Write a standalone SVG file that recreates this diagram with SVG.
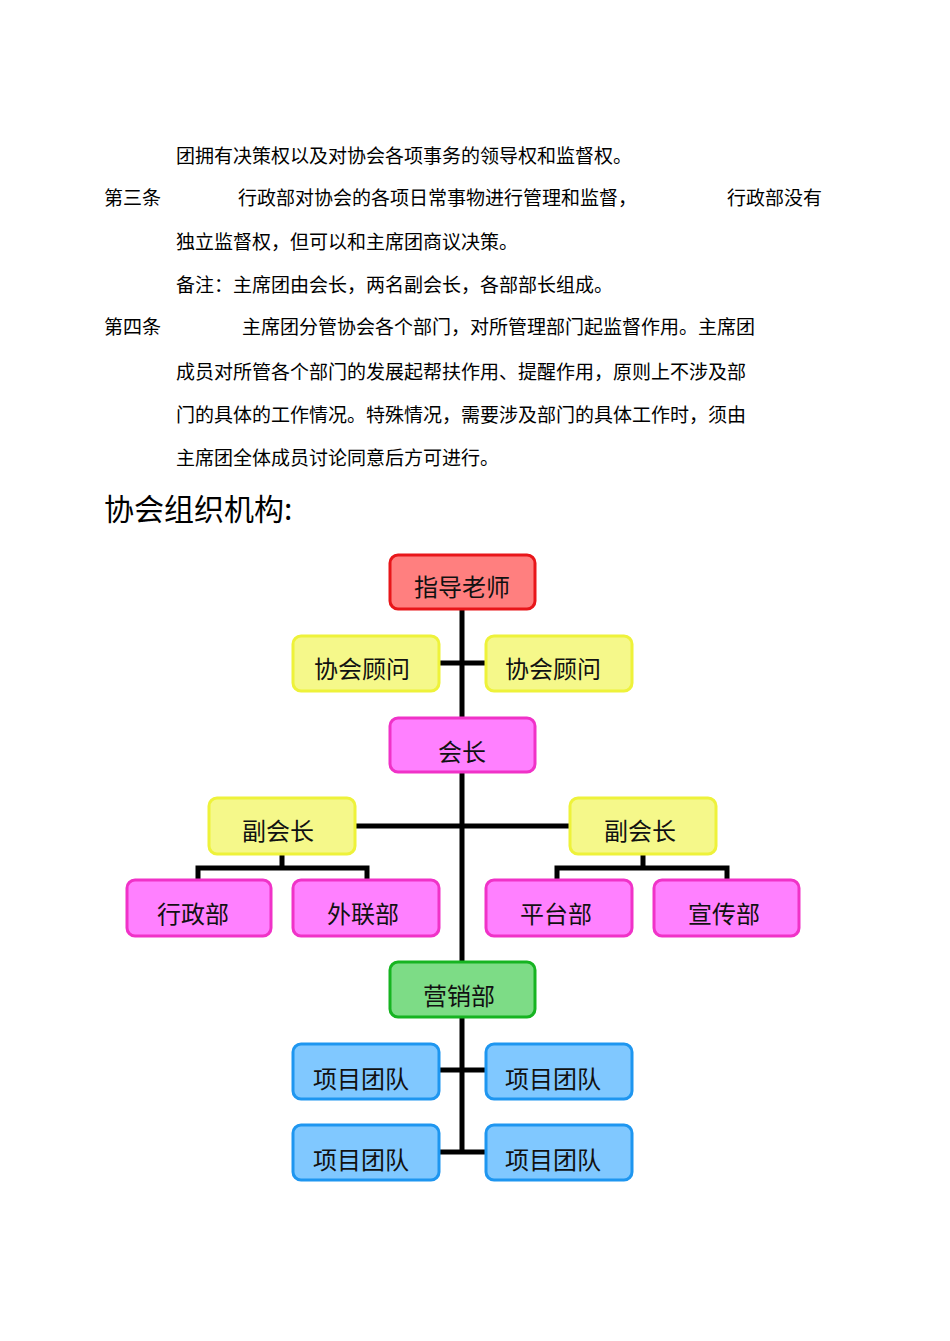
<svg xmlns="http://www.w3.org/2000/svg" width="950" height="1341" viewBox="0 0 950 1341">
<style>
.t{font-family:"Liberation Serif","Noto Sans CJK SC",serif;font-size:19px;fill:#000}
.h{font-family:"Noto Sans CJK SC",sans-serif;font-size:30px;fill:#000}
.n{font-family:"Noto Sans CJK SC",sans-serif;font-size:24px;fill:#111;text-anchor:middle}
.c{stroke:#000;stroke-width:5;fill:none}
.r{fill:#ff7f7f;stroke:#e8161a;stroke-width:3}
.y{fill:#f5f88a;stroke:#eef23a;stroke-width:3}
.p{fill:#ff80ff;stroke:#f032c8;stroke-width:3}
.g{fill:#7ddc86;stroke:#16b421;stroke-width:3}
.b{fill:#80c8ff;stroke:#1e96f0;stroke-width:3}
</style>
<rect width="950" height="1341" fill="#fff"/>
<text class="t" x="176" y="163">团拥有决策权以及对协会各项事务的领导权和监督权。</text>
<text class="t" x="104" y="205">第三条</text>
<text class="t" x="238" y="205">行政部对协会的各项日常事物进行管理和监督，</text>
<text class="t" x="727" y="205">行政部没有</text>
<text class="t" x="176" y="249">独立监督权，但可以和主席团商议决策。</text>
<text class="t" x="176" y="292">备注：主席团由会长，两名副会长，各部部长组成。</text>
<text class="t" x="104" y="334">第四条</text>
<text class="t" x="242" y="334">主席团分管协会各个部门，对所管理部门起监督作用。主席团</text>
<text class="t" x="176" y="379">成员对所管各个部门的发展起帮扶作用、提醒作用，原则上不涉及部</text>
<text class="t" x="176" y="422">门的具体的工作情况。特殊情况，需要涉及部门的具体工作时，须由</text>
<text class="t" x="176" y="465">主席团全体成员讨论同意后方可进行。</text>
<text class="h" x="104" y="520">协会组织机构:</text>
<g id="connectors">
<path class="c" d="M462 609V1152M439 663H486M355 826H570M282 854V868M198 880V868H367V880M643 854V868M557 880V868H727V880M439 1070H486M439 1152H486"/>
</g>
<g id="n1"><rect class="r" x="390" y="555" width="145" height="54" rx="8"/><text class="n" x="462" y="596">指导老师</text></g>
<g id="n2"><rect class="y" x="293" y="636" width="146" height="55" rx="8"/><text class="n" x="362" y="678">协会顾问</text></g>
<g id="n3"><rect class="y" x="486" y="636" width="146" height="55" rx="8"/><text class="n" x="553" y="678">协会顾问</text></g>
<g id="n4"><rect class="p" x="390" y="718" width="145" height="54" rx="8"/><text class="n" x="462" y="761">会长</text></g>
<g id="n5"><rect class="y" x="209" y="798" width="146" height="56" rx="8"/><text class="n" x="278" y="840">副会长</text></g>
<g id="n6"><rect class="y" x="570" y="798" width="146" height="56" rx="8"/><text class="n" x="640" y="840">副会长</text></g>
<g id="n7"><rect class="p" x="127" y="880" width="144" height="56" rx="8"/><text class="n" x="193" y="923">行政部</text></g>
<g id="n8"><rect class="p" x="293" y="880" width="146" height="56" rx="8"/><text class="n" x="363" y="923">外联部</text></g>
<g id="n9"><rect class="p" x="486" y="880" width="146" height="56" rx="8"/><text class="n" x="556" y="923">平台部</text></g>
<g id="n10"><rect class="p" x="654" y="880" width="145" height="56" rx="8"/><text class="n" x="724" y="923">宣传部</text></g>
<g id="n11"><rect class="g" x="390" y="962" width="145" height="55" rx="8"/><text class="n" x="459" y="1005">营销部</text></g>
<g id="n12"><rect class="b" x="293" y="1044" width="146" height="55" rx="8"/><text class="n" x="361" y="1088">项目团队</text></g>
<g id="n13"><rect class="b" x="486" y="1044" width="146" height="55" rx="8"/><text class="n" x="553" y="1088">项目团队</text></g>
<g id="n14"><rect class="b" x="293" y="1125" width="146" height="55" rx="8"/><text class="n" x="361" y="1169">项目团队</text></g>
<g id="n15"><rect class="b" x="486" y="1125" width="146" height="55" rx="8"/><text class="n" x="553" y="1169">项目团队</text></g>
</svg>
